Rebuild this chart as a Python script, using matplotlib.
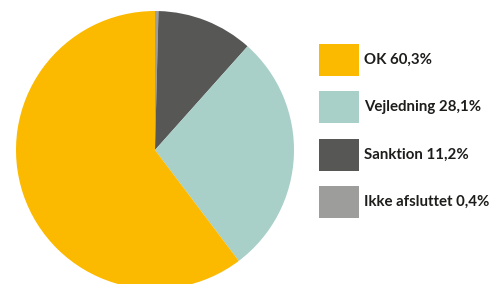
import matplotlib
matplotlib.use("Agg")
import matplotlib.pyplot as plt
from matplotlib.patches import Rectangle

# data
labels = ["Ikke afsluttet", "Sanktion", "Vejledning", "OK"]
values = [0.4, 11.2, 28.1, 60.3]
colors = ["#9d9d9c", "#575756", "#a8d0c8", "#fbba00"]

legend_order = ["OK", "Vejledning", "Sanktion", "Ikke afsluttet"]

W, H = 496, 284
fig = plt.figure(figsize=(W / 100, H / 100), dpi=100)

# pie axes: centre (155, 150), radius 139 px
cx, cy, r = 155, 150, 139
ax = fig.add_axes([(cx - r) / W, 1 - (cy + r) / H, 2 * r / W, 2 * r / H])
ax.pie(values, colors=colors, startangle=90, counterclock=False,
       wedgeprops=dict(linewidth=0))
ax.set_xlim(-1, 1)
ax.set_ylim(-1, 1)
ax.set_aspect("equal")
ax.axis("off")

# legend drawn by hand
for i, name in enumerate(legend_order):
    k = labels.index(name)
    top = 44 + i * 47.3
    fig.patches.append(Rectangle((319 / W, 1 - (top + 32) / H), 40 / W, 32 / H,
                                 transform=fig.transFigure, color=colors[k],
                                 linewidth=0))
    txt = f"{name} {values[k]:.1f}%".replace(".", ",")
    fig.text(364 / W, 1 - (top + 16) / H, txt, fontfamily="Lato",
             fontweight="bold", fontsize=10.8, color="#1d1d1b", va="center",
             ha="left")

fig.savefig("out.png", dpi=100)
